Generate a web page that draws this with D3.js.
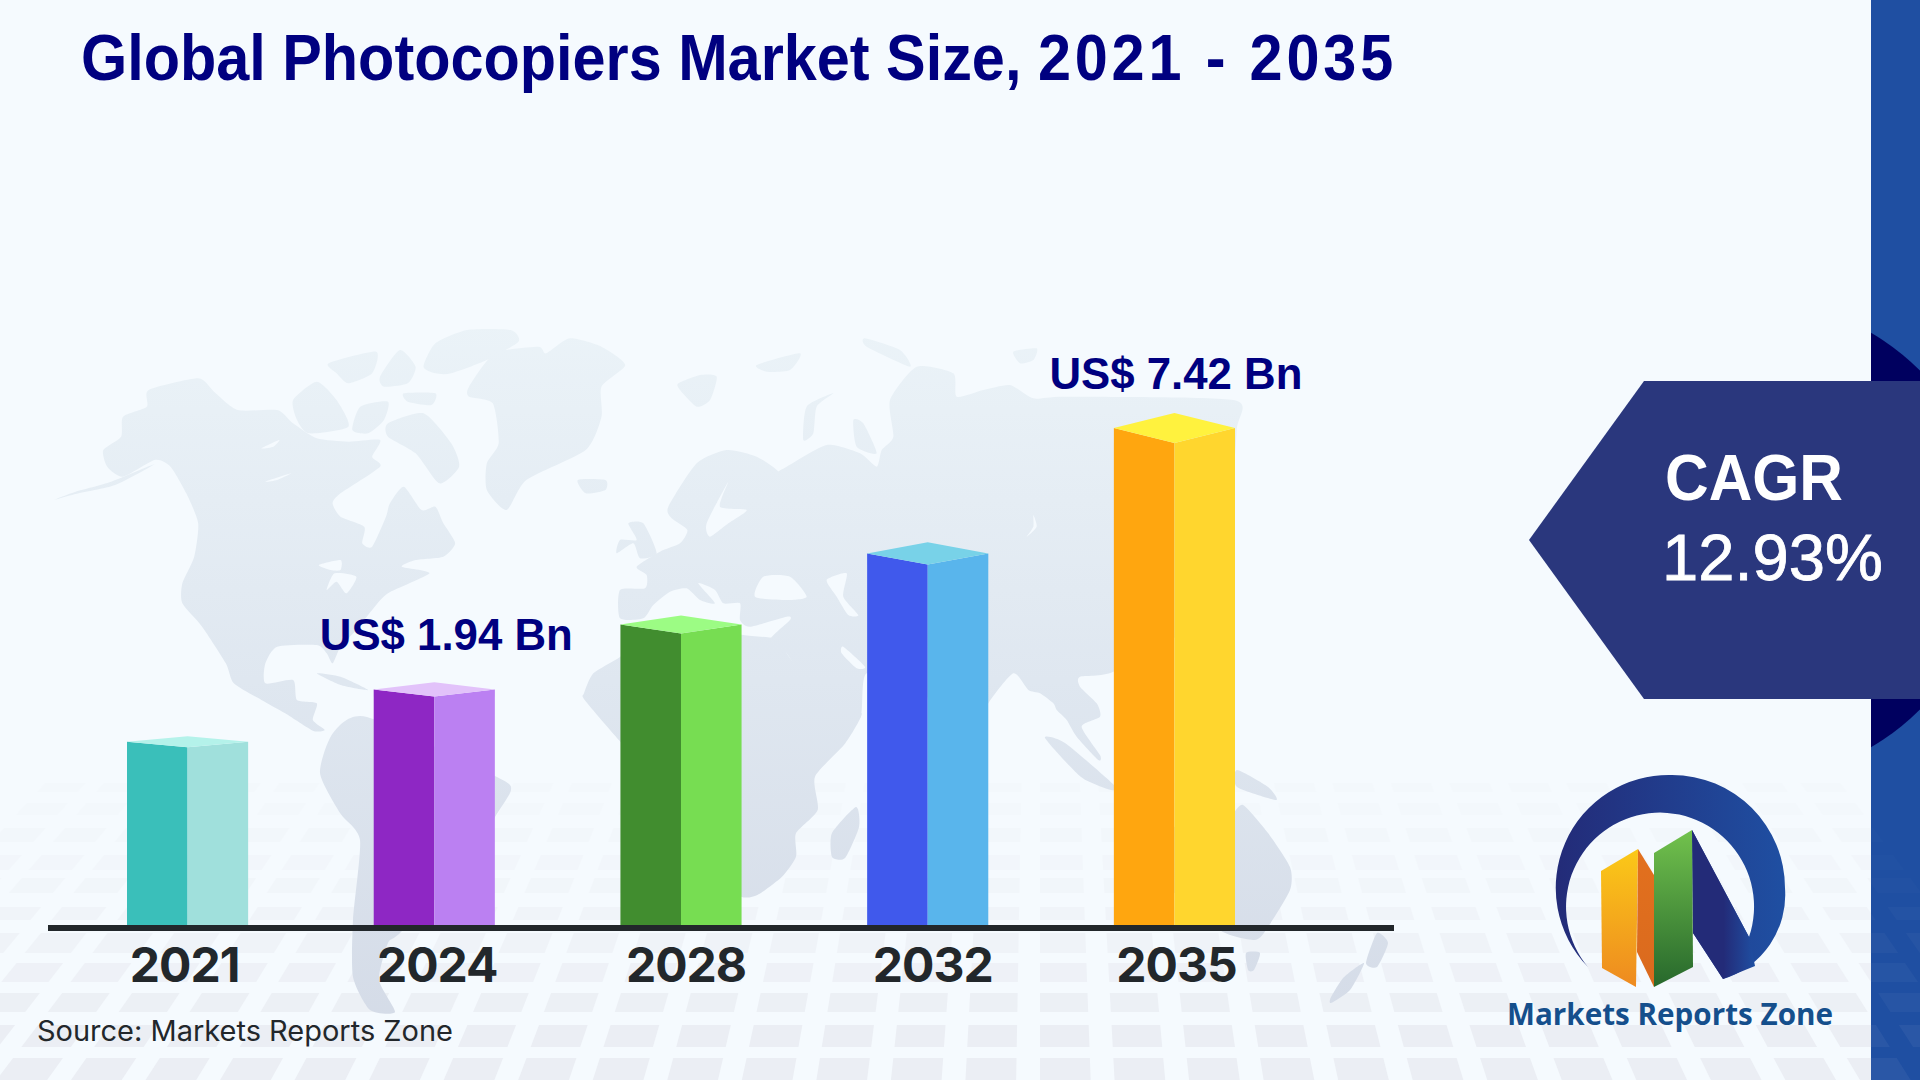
<!DOCTYPE html>
<html>
<head>
<meta charset="utf-8">
<title>Global Photocopiers Market Size</title>
<script src="https://cdnjs.cloudflare.com/ajax/libs/d3/7.8.5/d3.min.js"></script>
<style>
  html, body { margin: 0; padding: 0; background: #f5fafe; }
  svg { display: block; }
</style>
</head>
<body>
<div id="chart"></div>
<script>
// chart data
var years = ["2021", "2024", "2028", "2032", "2035"];
var values = [0.84, 1.94, 3.3, 4.79, 7.42];
var valueLabels = ["", "US$ 1.94 Bn", "", "", "US$ 7.42 Bn"];
var leftColors = ["#3abfba", "#8e27c4", "#418d2f", "#4059ec", "#ffa60f"];
var rightColors = ["#a0e0dc", "#bb80f2", "#77dd52", "#59b5ec", "#ffd62e"];
var topColors = ["#b4f2ea", "#e2c2fa", "#9cfc84", "#78d2e8", "#fff23e"];

var titleStart = "Global Photocopiers Market Size, ";
var titleRange = "2021 - 2035";
var source = "Source: Markets Reports Zone";
var cagrTitle = "CAGR";
var cagrValue = "12.93%";
var logoText = "Markets Reports Zone";

// background floor tiles, one row per entry
var rowTops = [783, 803, 828, 855, 878, 907, 933, 963, 993, 1025, 1058];
var rowBottoms = [792, 815, 842, 870, 893, 920, 953, 982, 1012, 1047, 1080];
var rowOpacity = [0.12, 0.15, 0.2, 0.25, 0.32, 0.42, 0.55, 0.68, 0.82, 0.95, 1];

// world map sketch, traced roughly. Americas/Greenland outlines are in "west" units,
// Eurasia/Africa in "east" units, the small ones are plain page pixels
var westLand = [
  [[160,420],[205,380],[210,320],[270,290],[275,240],[400,205],[440,245],[500,300],[600,300],[640,340],[700,385],[780,395],[860,390],[840,440],[860,470],[760,550],[740,580],[760,620],[820,650],[815,700],[840,710],[875,620],[885,580],[920,530],[965,600],[1000,590],[1020,640],[1050,700],[1020,740],[950,750],[915,770],[985,790],[880,850],[840,900],[800,960],[760,1010],[740,1060],[725,1030],[700,1005],[600,1010],[570,1060],[570,1120],[640,1110],[650,1170],[700,1180],[690,1230],[720,1260],[690,1262],[620,1210],[560,1170],[490,1120],[470,1060],[410,950],[360,880],[360,820],[390,740],[400,640],[370,550],[330,470],[290,450],[210,500],[170,470]],
  [[1085,230],[1150,130],[1260,110],[1280,130],[1340,85],[1420,110],[1480,165],[1420,230],[1420,320],[1380,420],[1230,510],[1180,600],[1130,540],[1130,460],[1160,400],[1145,280],[1085,260]],
  [[970,170],[1000,100],[1080,60],[1190,60],[1210,95],[1130,150],[1040,190],[1000,190]],
  [[880,340],[970,310],[1040,400],[1060,470],[1010,520],[950,430],[880,380]],
  [[640,270],[700,215],[750,270],[780,350],[680,370],[650,330]],
  [[730,160],[850,125],[840,190],[780,220],[750,190]],
  [[860,200],[910,120],[950,170],[930,220],[870,230]],
  [[920,250],[1000,250],[990,285],[930,275]],
  [[810,290],[880,275],[870,330],[830,370],[790,360]],
  [[1360,510],[1430,510],[1430,540],[1380,550]],
  [[290,462],[180,515],[90,545],[35,570],[90,552],[190,525]],
  [[700,1090],[760,1100],[830,1140],[760,1125]]
];
var westLakes = [
  [[705,765],[760,750],[760,780],[735,780]],
  [[725,840],[745,790],[800,800],[775,850],[750,815]],
  [[415,980],[430,1000],[445,1080],[425,1040]],
  [[560,415],[605,390],[590,410]],
  [[570,515],[635,490],[600,510]]
];
var eastLand = [
  [[60,840],[135,835],[140,795],[110,770],[180,725],[240,700],[262,660],[215,625],[205,590],[290,460],[380,420],[470,440],[540,490],[490,510],[560,470],[680,405],[780,430],[830,470],[845,420],[880,380],[870,270],[950,170],[1060,190],[1070,260],[1150,240],[1230,225],[1300,265],[1400,260],[1900,270],[1910,360],[1880,650],[1760,950],[1540,1085],[1440,1100],[1440,1130],[1490,1180],[1500,1220],[1445,1250],[1500,1335],[1495,1350],[1430,1280],[1400,1230],[1370,1200],[1360,1180],[1320,1150],[1285,1140],[1240,1090],[1165,1180],[1100,1300],[1000,1200],[960,1130],[800,1090],[780,1225],[690,1225],[620,1130],[560,1030],[510,990],[570,930],[560,920],[450,950],[420,930],[420,880],[370,880],[345,840],[295,820],[345,880],[300,870],[260,835],[210,845],[160,885],[130,925],[60,925]],
  // africa
  [[61,1040],[-20,1090],[-48,1150],[-46,1170],[61,1295],[100,1330],[200,1350],[300,1500],[330,1700],[423,1760],[472,1755],[546,1700],[588,1640],[588,1570],[653,1500],[645,1400],[736,1300],[785,1210],[700,1225],[680,1190],[560,1030],[555,990],[430,975],[330,960],[250,950],[160,960]],
  [[235,220],[300,195],[350,200],[330,270],[290,290],[240,240]],
  [[470,165],[600,130],[570,180],[500,185]],
  [[610,390],[620,290],[700,250],[650,290],[640,370]],
  [[760,330],[790,340],[830,430],[770,410]],
  [[795,85],[900,120],[930,170],[800,110]],
  [[1240,125],[1310,115],[1300,150],[1260,160]],
  [[85,640],[130,640],[170,730],[120,745],[100,700],[50,730],[60,690],[110,690]]
];
var eastLakes = [
  [[320,640],[385,515],[360,590],[440,600],[385,640],[330,680]],
  [[465,860],[490,800],[570,800],[620,860],[560,870]],
  [[680,810],[740,790],[730,860],[775,915],[745,915],[710,860]],
  [[730,1010],[795,1070],[770,1075],[725,1030]],
  [[1300,615],[1310,650],[1280,680],[1300,650]]
];
var pageLand = [
  [[320,773],[333,733],[367,717],[497,777],[511,790],[495,817],[467,867],[400,933],[388,943],[379,980],[395,1012],[370,1010],[353,977],[353,920],[360,840],[340,813]],
  [[856,807],[859,827],[845,858],[832,857],[832,833]],
  [[1243,805],[1268,833],[1290,867],[1290,890],[1268,927],[1255,940],[1220,930],[1200,890],[1130,900],[1120,860],[1170,830],[1200,810],[1230,815]],
  [[1246,953],[1260,953],[1254,970],[1248,970]],
  [[1237,770],[1268,787],[1276,800],[1237,787]],
  [[1377,933],[1388,943],[1377,967],[1366,963]],
  [[1364,963],[1350,990],[1331,1003],[1331,997],[1344,977]],
  [[1045,738],[1065,743],[1114,785],[1111,790],[1081,777]]
];

var svgWidth = 1920;
var svgHeight = 1080;
var bgColor = "#f5fafe";
var navy = "#000080";
var dark = "#22272b";
var sans = "'Liberation Sans', Arial, sans-serif";

var svg = d3.select("#chart")
  .append("svg")
  .attr("width", svgWidth)
  .attr("height", svgHeight);

var defs = svg.append("defs");

function addGradient(id, stops, horizontal) {
  var g = defs.append("linearGradient")
    .attr("id", id)
    .attr("x1", 0).attr("y1", 0)
    .attr("x2", horizontal ? 1 : 0).attr("y2", horizontal ? 0 : 1);
  stops.forEach(function(c, i) {
    g.append("stop").attr("offset", i / (stops.length - 1)).attr("stop-color", c);
  });
}

// map gradient runs over the page, not each shape
var mapGrad = defs.append("linearGradient")
  .attr("id", "mapGrad")
  .attr("gradientUnits", "userSpaceOnUse")
  .attr("x1", 0).attr("y1", 320).attr("x2", 0).attr("y2", 1040);
mapGrad.append("stop").attr("offset", 0).attr("stop-color", "#ebf3f8");
mapGrad.append("stop").attr("offset", 0.5).attr("stop-color", "#dfe7f0");
mapGrad.append("stop").attr("offset", 1).attr("stop-color", "#d4dbe7");

addGradient("logoRing", ["#232b78", "#1f4fa2"], true);
addGradient("logoDiag", ["#232b78", "#232b78", "#1f4fa2"], true);
addGradient("logoYellow", ["#fbc918", "#ee8a20"], false);
addGradient("logoOrange", ["#e2701e", "#da6a1e"], false);
addGradient("logoGreen", ["#72c24d", "#27682c"], false);

defs.append("clipPath").attr("id", "sideClip")
  .append("rect")
  .attr("x", 1871).attr("y", 0)
  .attr("width", 49).attr("height", svgHeight);

svg.append("rect")
  .attr("width", svgWidth)
  .attr("height", svgHeight)
  .attr("fill", bgColor);

// floor tiles
function tilePoints(i, top, bottom) {
  var cx = 1040, step = 74, fill = 0.68;
  var at = function(k, y) { return cx + k * step * (y + 300) / 1370; };
  return [
    [at(i, top), top],
    [at(i + fill, top), top],
    [at(i + fill, bottom), bottom],
    [at(i, bottom), bottom]
  ].join(" ");
}

var tileIndex = d3.range(-17, 14);

function drawTiles(parent, color, scale) {
  rowTops.forEach(function(top, r) {
    parent.append("g")
      .attr("opacity", rowOpacity[r] * scale)
      .selectAll("polygon")
      .data(tileIndex)
      .enter()
      .append("polygon")
      .attr("points", function(i) { return tilePoints(i, top, rowBottoms[r]); })
      .attr("fill", color);
  });
}

drawTiles(svg.append("g"), "#ebeef4", 1);

// world map
var smooth = d3.line().curve(d3.curveCardinalClosed.tension(0.35));
var mapGroup = svg.append("g");

function westToPage(p) { return [40 + p[0] / 2.529, 310 + p[1] / 3]; }
function eastToPage(p) { return [600 + p[0] / 3, 310 + p[1] / 3]; }

function drawShapes(shapes, toPage, fill) {
  mapGroup.append("g")
    .selectAll("path")
    .data(shapes)
    .enter()
    .append("path")
    .attr("d", function(d) { return smooth(d.map(toPage)); })
    .attr("fill", fill);
}

drawShapes(westLand, westToPage, "url(#mapGrad)");
drawShapes(eastLand, eastToPage, "url(#mapGrad)");
drawShapes(pageLand, function(p) { return p; }, "url(#mapGrad)");
drawShapes(westLakes, westToPage, bgColor);
drawShapes(eastLakes, eastToPage, bgColor);

// scales. Bars are not drawn from zero in the source picture, so the baseline sits at -3
var x = d3.scaleBand()
  .domain(years)
  .range([127, 1235])
  .paddingInner(0.509);

var y = d3.scaleLinear()
  .domain([-3, 7.42])
  .range([925, 428]);

var baseY = y(-3);
var topDepth = 0.03;  // depth of the bar lid, grows with bar height

var bars = svg.append("g")
  .selectAll("g")
  .data(years)
  .enter()
  .append("g");

function lid(i) { return (baseY - y(values[i])) * topDepth; }
function mid(d) { return x(d) + x.bandwidth() / 2; }

bars.append("polygon")
  .attr("points", function(d, i) {
    return [[x(d), y(values[i])], [mid(d), y(values[i]) + lid(i)], [mid(d), baseY], [x(d), baseY]].join(" ");
  })
  .attr("fill", function(d, i) { return leftColors[i]; });

bars.append("polygon")
  .attr("points", function(d, i) {
    return [[mid(d), y(values[i]) + lid(i)], [x(d) + x.bandwidth(), y(values[i])], [x(d) + x.bandwidth(), baseY], [mid(d), baseY]].join(" ");
  })
  .attr("fill", function(d, i) { return rightColors[i]; });

bars.append("polygon")
  .attr("points", function(d, i) {
    return [[x(d), y(values[i])], [mid(d), y(values[i]) - lid(i)], [x(d) + x.bandwidth(), y(values[i])], [mid(d), y(values[i]) + lid(i)]].join(" ");
  })
  .attr("fill", function(d, i) { return topColors[i]; });

// axis
svg.append("line")
  .attr("x1", 48).attr("x2", 1394)
  .attr("y1", 928).attr("y2", 928)
  .attr("stroke", dark)
  .attr("stroke-width", 6);

var tickNudge = [-3, 3, 5, 5, 2];

var xAxis = svg.append("g")
  .attr("transform", "translate(0,928)")
  .call(d3.axisBottom(x).tickSize(0).tickPadding(20));

xAxis.select(".domain").remove();

xAxis.selectAll("text")
  .attr("dx", function(d, i) { return tickNudge[i]; })
  .attr("font-family", "Inter, sans-serif")
  .attr("font-size", 48)
  .attr("font-weight", 700)
  .attr("letter-spacing", -1)
  .attr("fill", dark);

// value labels
var labelNudge = [0, 12, 0, 0, 1.5];

svg.append("g")
  .selectAll("text")
  .data(years)
  .enter()
  .filter(function(d, i) { return valueLabels[i] !== ""; })
  .append("text")
  .attr("x", function(d) { return mid(d) + labelNudge[years.indexOf(d)]; })
  .attr("y", function(d) { return y(values[years.indexOf(d)]) - 39; })
  .attr("text-anchor", "middle")
  .attr("font-family", sans)
  .attr("font-size", 45)
  .attr("font-weight", 700)
  .attr("textLength", 253)
  .attr("lengthAdjust", "spacingAndGlyphs")
  .attr("fill", navy)
  .text(function(d) { return valueLabels[years.indexOf(d)]; });

// title: the first part is squeezed in the source, the years run wider
var titleText = svg.append("text")
  .attr("transform", "translate(81,80) scale(0.9136,1)")
  .attr("font-family", sans)
  .attr("font-size", 65)
  .attr("font-weight", 700)
  .attr("fill", navy);

titleText.append("tspan").text(titleStart);
titleText.append("tspan").attr("letter-spacing", 4.2).text(titleRange);

svg.append("text")
  .attr("x", 37).attr("y", 1041)
  .attr("font-family", "Inter, sans-serif")
  .attr("font-size", 28)
  .attr("textLength", 416)
  .attr("lengthAdjust", "spacingAndGlyphs")
  .attr("fill", dark)
  .text(source);

// right side band and CAGR tag
var side = svg.append("g");

side.append("rect")
  .attr("x", 1871).attr("y", 0)
  .attr("width", 49).attr("height", svgHeight)
  .attr("fill", "#1f4fa2");

drawTiles(side.append("g").attr("clip-path", "url(#sideClip)"), "#ffffff", 0.05);

side.append("circle")
  .attr("cx", 1750).attr("cy", 540).attr("r", 240)
  .attr("clip-path", "url(#sideClip)")
  .attr("fill", "#00005f");

side.append("polygon")
  .attr("points", [[1529, 540], [1644, 381], [1920, 381], [1920, 699], [1644, 699]].join(" "))
  .attr("fill", "#2a377d");

side.append("text")
  .attr("x", 1665).attr("y", 500)
  .attr("font-family", sans)
  .attr("font-size", 65)
  .attr("font-weight", 700)
  .attr("textLength", 178)
  .attr("lengthAdjust", "spacingAndGlyphs")
  .attr("fill", "#ffffff")
  .text(cagrTitle);

side.append("text")
  .attr("x", 1662).attr("y", 580)
  .attr("font-family", sans)
  .attr("font-size", 65)
  .attr("textLength", 221)
  .attr("lengthAdjust", "spacingAndGlyphs")
  .attr("stroke", "#ffffff")
  .attr("stroke-width", 0.8)
  .attr("fill", "#ffffff")
  .text(cagrValue);

// logo
var logo = svg.append("g");

logo.append("path")
  .attr("d", "M1588,967 A113,113 0 0 1 1672,775 A113,113 0 0 1 1785,888 A88,88 0 0 1 1723,979 L1693,933 L1692,830 L1749,937 A94,94 0 1 0 1588,967 Z")
  .attr("fill", "url(#logoRing)");

logo.append("polygon")
  .attr("points", [[1692, 830], [1749, 937], [1755, 966], [1723, 979], [1693, 933]].join(" "))
  .attr("fill", "url(#logoDiag)");

logo.append("polygon")
  .attr("points", [[1601, 871], [1638, 849], [1636, 987], [1602, 968]].join(" "))
  .attr("fill", "url(#logoYellow)");

logo.append("polygon")
  .attr("points", [[1638, 849], [1654, 875], [1654, 987], [1637, 952]].join(" "))
  .attr("fill", "url(#logoOrange)");

logo.append("polygon")
  .attr("points", [[1654, 853], [1692, 830], [1693, 967], [1654, 987]].join(" "))
  .attr("fill", "url(#logoGreen)");

logo.append("text")
  .attr("x", 1507).attr("y", 1025)
  .attr("font-family", "'Open Sans', sans-serif")
  .attr("font-size", 31)
  .attr("font-weight", 700)
  .attr("textLength", 326)
  .attr("lengthAdjust", "spacingAndGlyphs")
  .attr("fill", "#154f8c")
  .text(logoText);
</script>
</body>
</html>
